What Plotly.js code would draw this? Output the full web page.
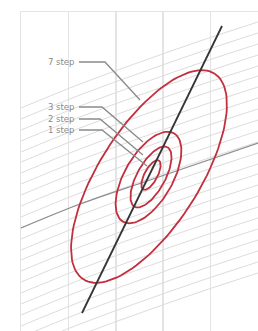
<!DOCTYPE html>
<html>
<head>
<meta charset="utf-8">
<script src="https://cdn.plot.ly/plotly-3.0.1.min.js"></script>
<style>html,body{margin:0;padding:0;background:#fff;}#chart{width:258px;height:331px;}</style>
</head>
<body>
<div id="chart"></div>
<script>
// ---- data (plot units; x to the right, y upward) ----
const stepLabels = ["1 step", "2 step", "3 step", "7 step"];
const ellipseCenterX = [130, 130, 127.5, 128];
const ellipseCenterY = [156, 154, 153.5, 154.5];
const ellipseSemiMajor = [16.5, 34, 51, 122];
const ellipseSemiMinor = [6.5, 14, 24, 50];
const ellipseAngleDeg = [62, 61, 60, 57.5];

const blackLineX = [61, 201];
const blackLineY = [18, 305];

const greyLineX = [0, 59, 129, 237];
const greyLineY = [103, 127, 151, 188];

// background contour family: common shape + starting heights at the left edge
const contourShapeX = [0, 59, 119, 179, 237];
const contourShapeRise = [0, 24, 46, 67, 86];
const contourStartY = [223, 212, 201, 190, 179, 169, 158, 147, 136, 125, 114, 103,
                       92, 81, 71, 60, 49, 38, 27, 16, 5, -6, -17, -28];

// label anchors and leader polylines
const labelX = [56, 56, 56, 56];
const labelY = [201, 212, 224, 269];
const leaderX = [[58, 81, 126], [58, 79, 122], [58, 81, 122], [58, 84, 119]];
const leaderY = [[201, 201, 165], [212, 212, 176], [224, 224, 189], [269, 269, 231]];

// ---- build traces ----
const traces = [];
contourStartY.forEach(y0 => {
  traces.push({
    type: 'scatter', mode: 'lines', hoverinfo: 'skip', showlegend: false,
    x: contourShapeX, y: contourShapeRise.map(r => y0 + r),
    line: {color: '#dcdcdc', width: 1, shape: 'spline', smoothing: 1}
  });
});
traces.push({
  type: 'scatter', mode: 'lines', hoverinfo: 'skip', showlegend: false,
  x: greyLineX, y: greyLineY,
  line: {color: '#8f8f8f', width: 1.3, shape: 'spline', smoothing: 1}
});
stepLabels.forEach((lab, i) => {
  const th = ellipseAngleDeg[i] * Math.PI / 180;
  const xs = [], ys = [];
  for (let k = 0; k <= 120; k++) {
    const t = 2 * Math.PI * k / 120;
    const u = ellipseSemiMajor[i] * Math.cos(t), v = ellipseSemiMinor[i] * Math.sin(t);
    xs.push(ellipseCenterX[i] + u * Math.cos(th) - v * Math.sin(th));
    ys.push(ellipseCenterY[i] + u * Math.sin(th) + v * Math.cos(th));
  }
  traces.push({
    type: 'scatter', mode: 'lines', name: lab, hoverinfo: 'skip', showlegend: false,
    x: xs, y: ys, line: {color: '#c22f3e', width: 1.8}
  });
});
stepLabels.forEach((lab, i) => {
  traces.push({
    type: 'scatter', mode: 'lines', hoverinfo: 'skip', showlegend: false,
    x: leaderX[i], y: leaderY[i], line: {color: '#8a8a8a', width: 1.3}
  });
});
traces.push({
  type: 'scatter', mode: 'lines', hoverinfo: 'skip', showlegend: false,
  x: blackLineX, y: blackLineY, line: {color: '#353535', width: 1.8}
});

const annotations = stepLabels.map((lab, i) => ({
  x: labelX[i], y: labelY[i], xref: 'x', yref: 'y', text: lab, showarrow: false,
  xanchor: 'right', yanchor: 'middle',
  font: {family: 'DejaVu Sans, sans-serif', size: 8.5, color: '#8a8a8a'}
}));

const layout = {
  width: 258, height: 331,
  margin: {l: 21, r: 0, t: 12, b: 0, pad: 0},
  paper_bgcolor: '#ffffff', plot_bgcolor: '#ffffff',
  showlegend: false,
  xaxis: {range: [0, 237], showgrid: true, gridcolor: '#e4e4e4', gridwidth: 1.5,
          tick0: 0, dtick: 47.4, showticklabels: false, ticks: '', zeroline: false,
          showline: true, linecolor: '#e4e4e4', linewidth: 1.5, mirror: true, fixedrange: true},
  yaxis: {range: [0, 319], showgrid: false, showticklabels: false, ticks: '', zeroline: false,
          showline: true, linecolor: '#e4e4e4', linewidth: 1.5, mirror: true, fixedrange: true},
  annotations: annotations
};

Plotly.newPlot('chart', traces, layout, {displayModeBar: false, staticPlot: true});
</script>
</body>
</html>
